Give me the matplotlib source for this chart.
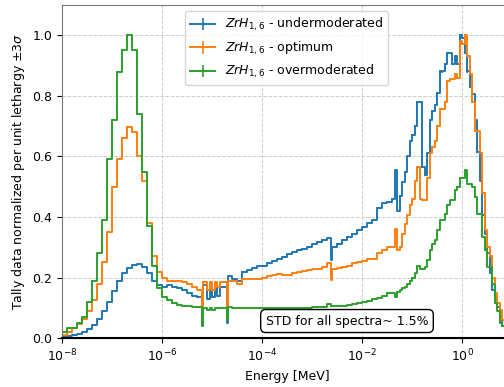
import numpy as np
import matplotlib
matplotlib.use("Agg")
import matplotlib.pyplot as plt

plt.rcParams["font.size"] = 9

# log10 of energy bin edges [MeV]
log_edges = ([-8.0, -7.9, -7.8, -7.7, -7.6, -7.5, -7.4, -7.3, -7.2, -7.1,
              -7.0, -6.9, -6.8, -6.7, -6.6, -6.5, -6.4, -6.3, -6.2, -6.1,
              -6.0, -5.9, -5.8, -5.7, -5.6, -5.5, -5.4, -5.3,
              -5.21, -5.18, -5.1, -5.05, -5.0, -4.95, -4.9, -4.85, -4.71, -4.68,
              -4.6, -4.5, -4.4, -4.3, -4.2, -4.1, -4.0, -3.9, -3.8, -3.7,
              -3.6, -3.5, -3.4, -3.3, -3.2, -3.1, -3.0, -2.9, -2.8, -2.7,
              -2.63, -2.6, -2.5, -2.4, -2.3, -2.2, -2.1, -2.0, -1.9, -1.8,
              -1.7, -1.6, -1.5, -1.45, -1.4, -1.35, -1.3, -1.25, -1.2, -1.15,
              -1.1, -1.05, -1.0, -0.95, -0.9, -0.85, -0.8, -0.75, -0.7, -0.65,
              -0.6, -0.55, -0.5, -0.45, -0.4, -0.35, -0.3, -0.25, -0.2, -0.15,
              -0.1, -0.05, 0.0, 0.05, 0.1, 0.15, 0.2, 0.25, 0.3, 0.35,
              0.4, 0.45, 0.5, 0.55, 0.6, 0.65, 0.7, 0.75, 0.8, 0.85,
              0.9, 1.0])

under = [0.004, 0.006, 0.010, 0.014, 0.020, 0.030, 0.045, 0.065, 0.090, 0.120,
         0.155, 0.190, 0.215, 0.232, 0.242, 0.245, 0.235, 0.215, 0.190, 0.175,
         0.170, 0.175, 0.170, 0.165, 0.160, 0.150, 0.140, 0.135,
         0.040, 0.175, 0.130, 0.170, 0.135, 0.170, 0.140, 0.170, 0.050, 0.205,
         0.195, 0.190, 0.220, 0.225, 0.232, 0.238, 0.240, 0.248, 0.255, 0.260,
         0.268, 0.278, 0.284, 0.290, 0.295, 0.300, 0.310, 0.318, 0.325, 0.330,
         0.258, 0.300, 0.312, 0.325, 0.335, 0.345, 0.356, 0.367, 0.380, 0.390,
         0.430, 0.445, 0.450, 0.450, 0.460, 0.554, 0.420, 0.470, 0.515, 0.550,
         0.600, 0.650, 0.670, 0.700, 0.780, 0.780, 0.565, 0.537, 0.610, 0.720,
         0.750, 0.770, 0.810, 0.880, 0.880, 0.905, 0.940, 0.940, 0.905, 0.930,
         0.905, 1.000, 0.990, 0.940, 0.880, 0.830, 0.806, 0.720, 0.614, 0.520,
         0.406, 0.345, 0.280, 0.214, 0.160, 0.137, 0.104, 0.060, 0.040, 0.030,
         0.020]

optimum = [0.011, 0.022, 0.033, 0.048, 0.065, 0.090, 0.125, 0.180, 0.250, 0.350,
           0.500, 0.590, 0.660, 0.696, 0.680, 0.600, 0.520, 0.380, 0.270, 0.220,
           0.200, 0.190, 0.190, 0.188, 0.185, 0.178, 0.170, 0.160,
           0.070, 0.185, 0.160, 0.185, 0.160, 0.185, 0.170, 0.185, 0.100, 0.190,
           0.190, 0.180, 0.197, 0.197, 0.197, 0.197, 0.200, 0.204, 0.208, 0.212,
           0.210, 0.208, 0.214, 0.219, 0.222, 0.225, 0.227, 0.230, 0.235, 0.247,
           0.192, 0.230, 0.232, 0.236, 0.240, 0.247, 0.252, 0.256, 0.260, 0.263,
           0.280, 0.290, 0.300, 0.300, 0.300, 0.360, 0.290, 0.300, 0.345, 0.378,
           0.405, 0.440, 0.460, 0.520, 0.565, 0.460, 0.455, 0.455, 0.530, 0.610,
           0.630, 0.650, 0.700, 0.757, 0.757, 0.780, 0.850, 0.855, 0.855, 0.870,
           0.860, 0.980, 0.970, 1.000, 0.930, 0.870, 0.780, 0.685, 0.685, 0.610,
           0.480, 0.356, 0.300, 0.270, 0.200, 0.148, 0.115, 0.093, 0.060, 0.040,
           0.030]

over = [0.022, 0.033, 0.033, 0.050, 0.070, 0.120, 0.190, 0.280, 0.390, 0.590,
        0.720, 0.877, 0.950, 1.000, 0.950, 0.740, 0.550, 0.370, 0.240, 0.165,
        0.137, 0.126, 0.115, 0.110, 0.107, 0.105, 0.104, 0.104,
        0.044, 0.100, 0.095, 0.100, 0.095, 0.100, 0.100, 0.100, 0.060, 0.102,
        0.100, 0.100, 0.100, 0.100, 0.100, 0.100, 0.100, 0.100, 0.100, 0.100,
        0.100, 0.100, 0.100, 0.100, 0.101, 0.101, 0.102, 0.102, 0.104, 0.112,
        0.105, 0.105, 0.106, 0.108, 0.110, 0.112, 0.118, 0.120, 0.123, 0.128,
        0.132, 0.138, 0.148, 0.148, 0.148, 0.137, 0.154, 0.160, 0.165, 0.170,
        0.180, 0.190, 0.200, 0.214, 0.240, 0.230, 0.230, 0.235, 0.258, 0.290,
        0.310, 0.323, 0.356, 0.390, 0.390, 0.410, 0.440, 0.455, 0.455, 0.488,
        0.500, 0.530, 0.530, 0.554, 0.510, 0.510, 0.500, 0.466, 0.410, 0.410,
        0.334, 0.290, 0.236, 0.236, 0.180, 0.115, 0.090, 0.050, 0.040, 0.030,
        0.030]

labels = [r"$ZrH_{1,6}$ - undermoderated",
          r"$ZrH_{1,6}$ - optimum",
          r"$ZrH_{1,6}$ - overmoderated"]
colors = ["#1f77b4", "#ff7f0e", "#2ca02c"]
xticks = [1e-8, 1e-6, 1e-4, 1e-2, 1e0]
rel_err = 0.004  # relative 3-sigma error bar size (small)

fig = plt.figure(figsize=(5.04, 3.87), dpi=100)
ax = fig.add_axes([0.123, 0.1258, 0.893, 0.862])

edges = 10.0 ** np.array(log_edges)
for vals, lab, col in zip([under, optimum, over], labels, colors):
    v = np.array(vals)
    y = np.append(v, v[-1])
    err = np.append(rel_err * v, 0.0)
    ax.errorbar(edges, y, yerr=err, drawstyle="steps-post", color=col,
                label=lab, lw=1.4, elinewidth=1.2)

ax.set_xscale("log")
ax.set_xlim(1e-8, 1e1)
ax.set_xticks(xticks)
ax.set_ylim(0, 1.1)
ax.set_yticks([0.0, 0.2, 0.4, 0.6, 0.8, 1.0])
ax.grid(True, which="major", ls="--", color="#cccccc", lw=0.7)
ax.minorticks_off()
for s in ["left", "top", "right"]:
    ax.spines[s].set_color("#777777")
ax.axhline(0, color="k", lw=1.5, zorder=5, clip_on=False)

ax.set_xlabel("Energy [MeV]")
ax.set_ylabel(r"Tally data normalized per unit lethargy $\pm3\sigma$")

ax.legend(loc="upper center", bbox_to_anchor=(0.499, 1.0))
ax.text(5e-3, 0.057, "STD for all spectra~ 1.5%", ha="center", va="center",
        bbox=dict(boxstyle="round,pad=0.4", fc="white", ec="black", lw=1))

fig.savefig("out.png", dpi=100)
